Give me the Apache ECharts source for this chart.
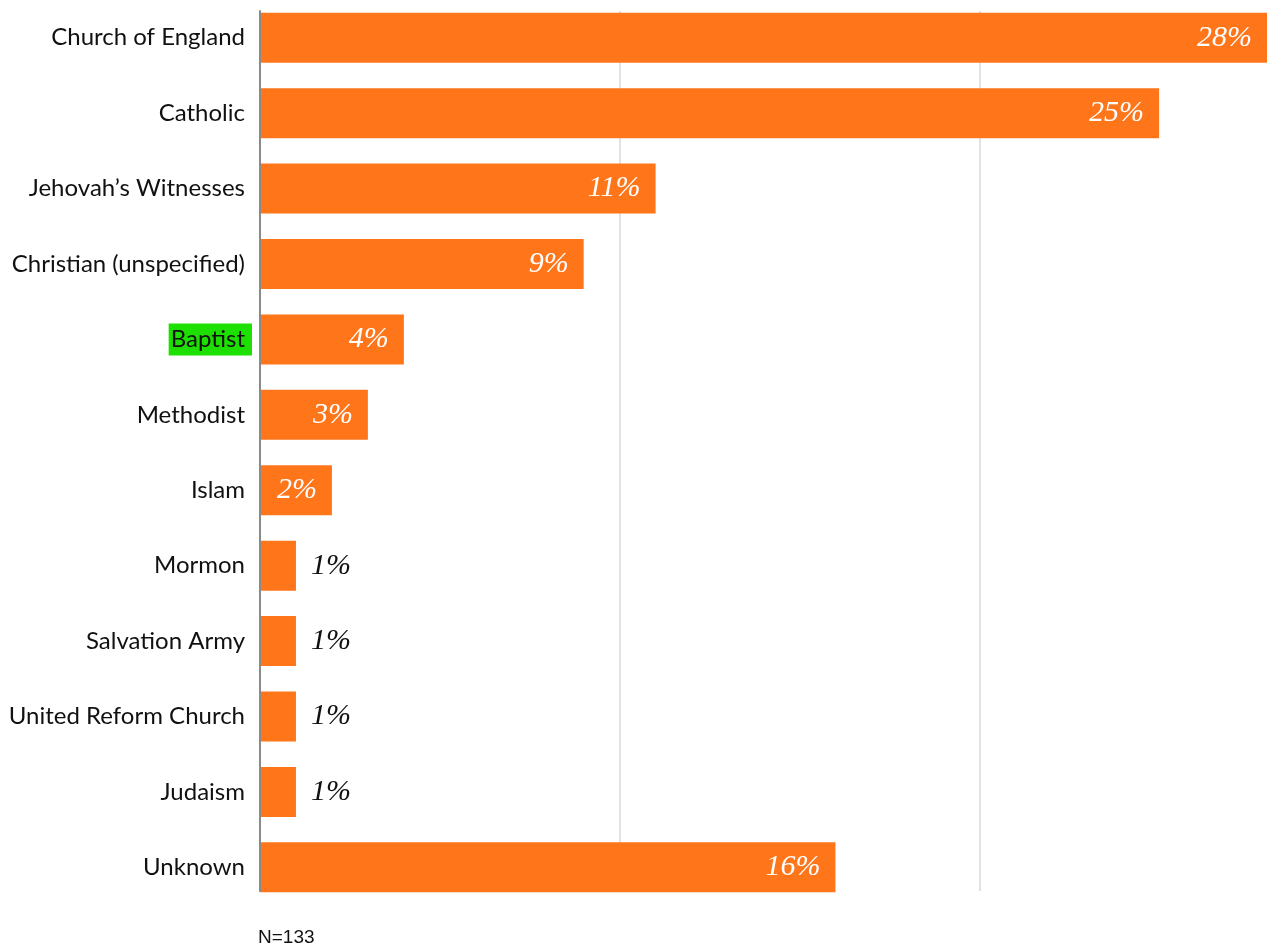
<!DOCTYPE html>
<html>
<head>
<meta charset="utf-8">
<script src="https://cdn.jsdelivr.net/npm/echarts@6/dist/echarts.min.js"></script>
<style>
html,body{margin:0;padding:0;background:#fff;}
#chart{width:1267px;height:947px;}
</style>
</head>
<body>
<div id="chart"></div>
<script>
const categories = ['Church of England','Catholic','Jehovah\u2019s Witnesses','Christian (unspecified)','Baptist','Methodist','Islam','Mormon','Salvation Army','United Reform Church','Judaism','Unknown'];
const values = [28,25,11,9,4,3,2,1,1,1,1,16];
const highlighted = 'Baptist';
const xTicks = [0,10,20];
const note = 'N=133';

const chart = echarts.init(document.getElementById('chart'));
const valueLabelFont = {fontFamily:'Liberation Serif', fontStyle:'italic', fontSize:30, formatter:'{c}%'};
const seriesData = values.map(v => ({
  value: v,
  label: v >= 2
    ? Object.assign({show:true, position:'insideRight', distance:15, color:'#ffffff'}, valueLabelFont)
    : Object.assign({show:true, position:'right', distance:15, color:'#111111'}, valueLabelFont)
}));

const barMax = 28;
chart.setOption({
  animation:false,
  backgroundColor:'#ffffff',
  title:{text:note, left:258, top:928, padding:0, textStyle:{fontFamily:'Liberation Sans', fontSize:19, fontWeight:'normal', color:'#111'}},
  grid:[
    {left:260, right:0, top:11, height:880, containLabel:false},
    {left:260, right:0, top:-5, height:910, containLabel:false}
  ],
  xAxis:[
    {gridIndex:0, type:'value', min:0, max:barMax, interval:10,
      axisLine:{show:false}, axisTick:{show:false}, axisLabel:{show:false},
      splitLine:{show:true, showMaxLine:false, showMinLine:false, lineStyle:{color:'#e2e2e2', width:2}}},
    {gridIndex:1, type:'value', min:0, max:barMax,
      axisLine:{show:false}, axisTick:{show:false}, axisLabel:{show:false}, splitLine:{show:false}}
  ],
  yAxis:[
    {gridIndex:0, type:'category', data:[''], z:10,
      axisLine:{show:true, lineStyle:{color:'#8a8a8a', width:2}}, axisTick:{show:false}, axisLabel:{show:false}, splitLine:{show:false}},
    {gridIndex:1, type:'category', data:categories, inverse:true,
      axisLine:{show:false}, axisTick:{show:false}, splitLine:{show:false},
      axisLabel:{margin:8, fontFamily:'Lato', fontSize:24, color:'#111',
        formatter: v => v === highlighted ? '{hl|' + v + '}' : '{n|' + v + '}',
        rich:{
          n:{fontFamily:'Lato', fontSize:24, color:'#111', padding:[0,7,0,0]},
          hl:{fontFamily:'Lato', fontSize:24, color:'#111', backgroundColor:'#1ee000', padding:[4,7,4,2]}
        }}}
  ],
  series:[{
    type:'bar', xAxisIndex:1, yAxisIndex:1, data:seriesData, barWidth:50,
    itemStyle:{color:'#ff761a'}
  }]
});
</script>
</body>
</html>
